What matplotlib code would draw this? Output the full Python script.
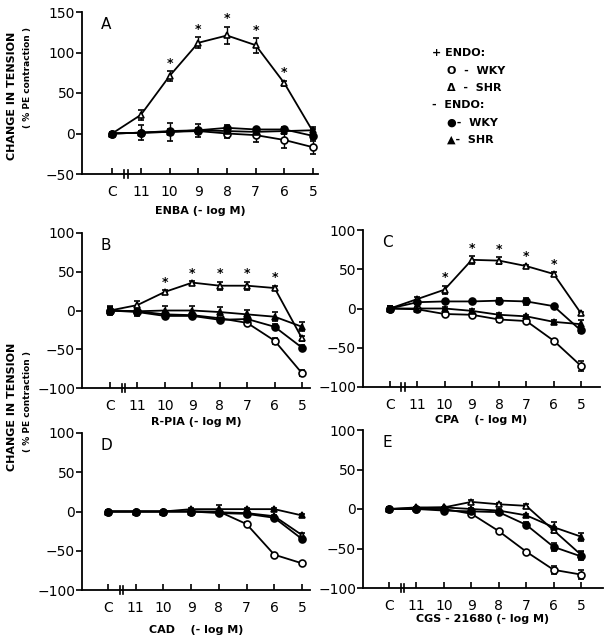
#!/usr/bin/env python3
# -*- coding: utf-8 -*-
"""
Change in tension vs agonist concentration, five panels (A-E).
"""

import matplotlib
matplotlib.use("Agg")
import matplotlib.pyplot as plt

W, H = 605, 640

TICKS = ["C", "11", "10", "9", "8", "7", "6", "5"]
X = list(range(len(TICKS)))

# Panel A: ENBA
A_wky_endo = [0, 1, 2, 3, 0, -2, -8, -17]
A_wky_endo_err = [2, 2, 2, 3, 6, 8, 10, 8]
A_shr_endo = [0, 23, 71, 112, 121, 109, 62, 2]
A_shr_endo_err = [2, 6, 6, 7, 11, 9, 3, 3]
A_wky_den = [0, 1, 3, 4, 7, 5, 5, -3]
A_wky_den_err = [2, 2, 2, 3, 3, 2, 3, 4]
A_shr_den = [0, 1, 2, 4, 3, 2, 3, 4]
A_shr_den_err = [2, 9, 11, 8, 3, 3, 3, 4]
A_stars = [2, 3, 4, 5, 6]

# Panel B: R-PIA
B_wky_endo = [0, -1, -5, -6, -10, -16, -39, -81]
B_wky_endo_err = [4, 3, 3, 3, 3, 3, 4, 4]
B_shr_endo = [0, 7, 24, 36, 32, 32, 29, -36]
B_shr_endo_err = [3, 5, 2, 2, 5, 5, 3, 3]
B_wky_den = [0, -2, -7, -7, -12, -11, -21, -48]
B_wky_den_err = [5, 4, 3, 3, 3, 3, 3, 3]
B_shr_den = [0, -1, 0, 0, -2, -5, -8, -21]
B_shr_den_err = [6, 6, 6, 6, 6, 6, 6, 6]
B_stars = [2, 3, 4, 5, 6]

# Panel C: CPA
C_wky_endo = [0, -1, -7, -8, -14, -16, -41, -73]
C_wky_endo_err = [3, 2, 2, 2, 3, 3, 2, 6]
C_shr_endo = [0, 12, 24, 62, 61, 54, 44, -6]
C_shr_endo_err = [2, 3, 5, 5, 4, 2, 2, 2]
C_wky_den = [0, 8, 9, 9, 10, 9, 3, -28]
C_wky_den_err = [3, 2, 2, 2, 4, 4, 2, 3]
C_shr_den = [0, 0, 0, -3, -8, -10, -17, -20]
C_shr_den_err = [3, 2, 2, 2, 2, 2, 2, 5]
C_stars = [2, 3, 4, 5, 6]

# Panel D: CAD
D_wky_endo = [0, 0, 0, 0, 0, -16, -55, -66]
D_wky_endo_err = [2, 1, 1, 1, 1, 2, 2, 2]
D_shr_endo = [0, 0, 0, 0, -1, -2, -6, -30]
D_shr_endo_err = [2, 1, 1, 1, 1, 2, 2, 2]
D_wky_den = [0, 0, 0, 0, -2, -3, -8, -35]
D_wky_den_err = [2, 1, 1, 1, 2, 2, 2, 3]
D_shr_den = [0, 0, 0, 3, 3, 3, 3, -5]
D_shr_den_err = [2, 1, 1, 1, 5, 2, 2, 2]
D_stars = []

# Panel E: CGS - 21680
E_wky_endo = [0, 0, 0, -6, -28, -54, -77, -83]
E_wky_endo_err = [2, 1, 1, 2, 2, 2, 5, 6]
E_shr_endo = [0, 1, 2, 9, 6, 4, -27, -58]
E_shr_endo_err = [2, 1, 1, 2, 2, 2, 4, 5]
E_wky_den = [0, 0, -2, -3, -4, -20, -48, -60]
E_wky_den_err = [2, 1, 2, 2, 2, 3, 5, 5]
E_shr_den = [0, 2, 2, 0, -2, -8, -23, -35]
E_shr_den_err = [2, 1, 1, 1, 2, 2, 6, 5]
E_stars = []

LEGEND_HEAD = ["+ ENDO:", "-  ENDO:"]
LEGEND_ITEMS = [["O  -  WKY", "\u0394  -  SHR"], ["\u25cf-  WKY", "\u25b2-  SHR"]]


def px_rect(left, top, right, bottom):
    """Convert a pixel box (from top-left) to a figure fraction rect"""
    return [left / W, 1 - bottom / H, (right - left) / W, (bottom - top) / H]


def plot_panel(fig, rect, xlim, ylim, yticks, letter, xlabel, series, stars,
               labelpad=5):
    """Plots one panel of four series with error bars"""
    ax = fig.add_axes(rect)

    styles = [
        dict(marker="o", mfc="white"),
        dict(marker="^", mfc="white"),
        dict(marker="o", mfc="black"),
        dict(marker="^", mfc="black"),
    ]
    for (y, err), st in zip(series, styles):
        ax.errorbar(
            X, y, yerr=err, color="black", lw=1.3, ms=5, mec="black",
            mew=1.2, elinewidth=1.0, capsize=2, capthick=1.0, zorder=3,
            **st,
        )

    # Asterisks above the + ENDO SHR curve
    shr, shr_err = series[1]
    for i in stars:
        ax.annotate(
            "*", (X[i], shr[i] + shr_err[i]), xytext=(0, 1),
            textcoords="offset points", ha="center", va="bottom",
            fontsize=9, fontweight="bold",
        )

    ax.set_xlim(xlim)
    ax.set_ylim(ylim)
    ax.set_yticks(yticks)
    ax.set_yticklabels([str(t).replace("-", "\u2212") for t in yticks])
    ax.set_xticks(X)
    ax.set_xticklabels(TICKS)
    for s in ["top", "right"]:
        ax.spines[s].set_visible(False)
    for s in ["left", "bottom"]:
        ax.spines[s].set_linewidth(1.3)
    ax.tick_params(axis="y", direction="out", length=4, width=1.2,
                   labelsize=10, pad=1)
    ax.tick_params(axis="x", direction="in", length=4, width=1.2,
                   labelsize=10, pad=8)

    # Axis break between C and 11
    for xb in [0.42, 0.55]:
        ax.plot([xb, xb], [-0.025, 0.025], color="black", lw=1.2,
                transform=ax.get_xaxis_transform(), clip_on=False)

    ax.text(0.08, 0.97, letter, transform=ax.transAxes, fontsize=11,
            va="top")
    ax.set_xlabel(xlabel, fontsize=8, fontweight="bold", labelpad=labelpad)
    return ax


fig = plt.figure(figsize=(W / 100, H / 100), dpi=100)

plot_panel(
    fig, px_rect(82, 12, 318, 174), (-1.05, 7.17), (-50, 150),
    [-50, 0, 50, 100, 150], "A", "ENBA (- log M)",
    [(A_wky_endo, A_wky_endo_err), (A_shr_endo, A_shr_endo_err),
     (A_wky_den, A_wky_den_err), (A_shr_den, A_shr_den_err)], A_stars,
    labelpad=5,
)
plot_panel(
    fig, px_rect(82, 233, 310, 388), (-1.02, 7.29), (-100, 100),
    [-100, -50, 0, 50, 100], "B", "R-PIA (- log M)",
    [(B_wky_endo, B_wky_endo_err), (B_shr_endo, B_shr_endo_err),
     (B_wky_den, B_wky_den_err), (B_shr_den, B_shr_den_err)], B_stars,
    labelpad=3,
)
plot_panel(
    fig, px_rect(363, 230, 600, 387), (-0.99, 7.7), (-100, 100),
    [-100, -50, 0, 50, 100], "C", "CPA    (- log M)",
    [(C_wky_endo, C_wky_endo_err), (C_shr_endo, C_shr_endo_err),
     (C_wky_den, C_wky_den_err), (C_shr_den, C_shr_den_err)], C_stars,
    labelpad=2,
)
plot_panel(
    fig, px_rect(82, 433, 310, 590), (-0.94, 7.29), (-100, 100),
    [-100, -50, 0, 50, 100], "D", "CAD    (- log M)",
    [(D_wky_endo, D_wky_endo_err), (D_shr_endo, D_shr_endo_err),
     (D_wky_den, D_wky_den_err), (D_shr_den, D_shr_den_err)], D_stars,
    labelpad=7,
)
plot_panel(
    fig, px_rect(363, 430, 603, 588), (-0.95, 7.8), (-100, 100),
    [-100, -50, 0, 50, 100], "E", "CGS - 21680 (- log M)",
    [(E_wky_endo, E_wky_endo_err), (E_shr_endo, E_shr_endo_err),
     (E_wky_den, E_wky_den_err), (E_shr_den, E_shr_den_err)], E_stars,
    labelpad=1,
)

# y-axis titles
for yc, yp in [(96, 78), (407, 402)]:
    fig.text(12 / W, 1 - yc / H, "CHANGE IN TENSION", rotation=90,
             ha="center", va="center", fontsize=8, fontweight="bold")
    fig.text(28 / W, 1 - yp / H, "( % PE contraction )", rotation=90,
             ha="center", va="center", fontsize=6.5, fontweight="bold")

# Legend written as text
y = 53
for head, items in zip(LEGEND_HEAD, LEGEND_ITEMS):
    fig.text(432 / W, 1 - y / H, head, fontsize=8, fontweight="bold",
             va="center")
    y += 18
    for item in items:
        fig.text(447 / W, 1 - y / H, item, fontsize=8, fontweight="bold",
                 va="center")
        y += 17

fig.savefig("out.png", dpi=100)
